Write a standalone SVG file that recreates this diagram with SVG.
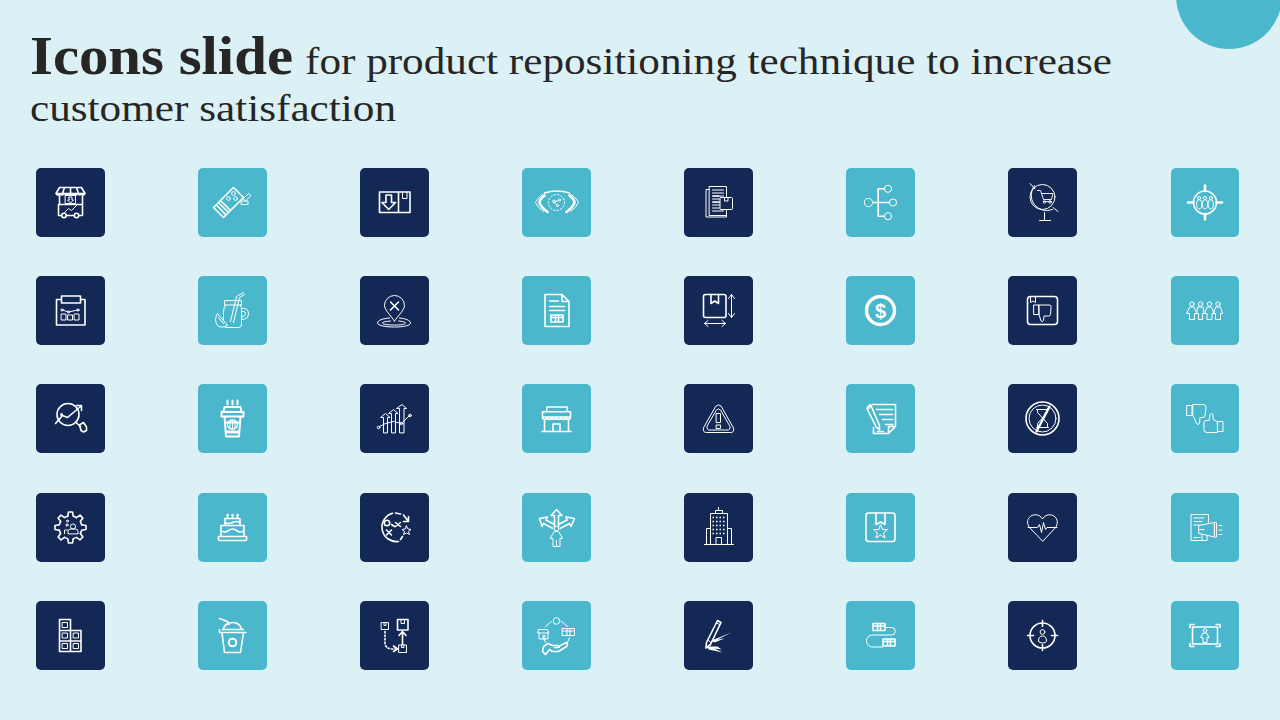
<svg xmlns="http://www.w3.org/2000/svg" xmlns:xlink="http://www.w3.org/1999/xlink" width="1280" height="720" viewBox="0 0 1280 720">
<style>
.n{fill:#132855}.t{fill:#4AB7CD}
g.i{fill:none;stroke:#fff;stroke-width:1;stroke-linejoin:round;stroke-linecap:round}
.b{stroke-width:1.6}.h{stroke-width:2.6}.f{fill:#fff;stroke:none}.d{stroke-dasharray:1.5 2}
.title{font-family:"Liberation Serif","DejaVu Serif",serif;fill:#262626}
</style>
<defs>
<path id="gt" d="M-2.78,-11.16L-2,-15.5H2L2.78,-11.16A11.5,11.5 0 0 1 5.92,-9.86"/>
<path id="td" d="M-8.5,-5.5h5v9.5h-5zM-3.5,-5.5H7Q9,-5.5 8.5,-3L8,4Q8,5.5 6,5.5H1.5L1,10Q0,12-1.5,10.5L-3.5,4Z"/>
<path id="bx" d="M-6,-3.5h12v7h-12zM-6,-1h12M-1.5,-3.5v7M1.5,-3.5v7"/>
</defs>
<rect width="1280" height="720" fill="#DCF1F5"/>
<circle id="corner" cx="1229" cy="-4" r="53" fill="#4AB7CD"/>
<g id="title" class="title">
<text x="30" y="74" font-size="54" font-weight="700" textLength="263" lengthAdjust="spacingAndGlyphs">Icons slide</text>
<text x="305" y="74" font-size="38" textLength="807" lengthAdjust="spacingAndGlyphs">for product repositioning technique to increase</text>
<text x="30" y="121" font-size="38" textLength="366" lengthAdjust="spacingAndGlyphs">customer satisfaction</text>
</g>
<g id="connectors"/>

<!-- row 1 -->
<g id="icon-stall" class="i" transform="translate(70.5,202.5)"><rect class="n" x="-34.5" y="-34.5" width="69" height="69" rx="5" stroke="none"/>
<path class="b" d="M-11,-15H11L14.5,-9H-14.5ZM-14.5,-9Q-12.5,-6-10.5,-9Q-8.5,-6-6,-9Q-4,-6-1.5,-9Q1,-6 3,-9Q5,-6 7,-9Q9.5,-6 11,-9Q13,-6 14.5,-9M-6,-15-8,-9M0,-15V-9M6,-15 8,-9M-11,-7V2M12,-7V2"/>
<path class="b" d="M-12,2H12V13H-12Z"/><circle class="b" cx="-6.5" cy="13" r="2.2" fill="#132855"/><circle class="b" cx="6" cy="13" r="2.2" fill="#132855"/>
<path d="M-5,-7h10v8h-10zM-1.5,-5.5h3v3h1.5l-3,3-3-3h1.5zM-6,10-2,6 1,8 6,3"/></g>

<g id="icon-ticket" class="i" transform="translate(232.5,202.5)"><rect class="t" x="-34.5" y="-34.5" width="69" height="69" rx="5" stroke="none"/>
<path class="b" d="M-19,5 1,-15 11,-5-9,15ZM-14,0-4,10M-16,2.5-6.5,12.5M-12,-2-2,8"/>
<circle cx="1" cy="-9" r="1.9"/><circle cx="-4" cy="-4" r="1.9"/><circle cx="3" cy="-4" r="1.9"/>
<path d="M9,-1.5h6.5v3.5H9ZM11,-4 16,-9 18.5,-7 13.5,-2Z"/></g>

<g id="icon-box-down" class="i" transform="translate(394.5,202.5)"><rect class="n" x="-34.5" y="-34.5" width="69" height="69" rx="5" stroke="none"/>
<path class="b" d="M-15,-10.5H15.5V10H-15ZM4,-10.5V10"/><path d="M8,-10.5V-4H12.5V-10.5"/>
<path class="b" d="M-8.5,-7.5h5.5v7.5h4l-6.8,7-6.7-7h4z"/></g>

<g id="icon-eye" class="i" transform="translate(556.5,202.5)"><rect class="t" x="-34.5" y="-34.5" width="69" height="69" rx="5" stroke="none"/>
<path class="h" d="M-12,-7Q-17,-3-17,0-16,4-9,9.5M13,-7Q18,-3 18,0 17,4 10,9.5"/>
<path d="M-14,-8Q-20,-3-21,0-19,5-13,9M15,-8Q21,-3 22,0 20,5 14,9"/>
<path class="b" d="M-12,-9.5Q0,-13.5 13,-9.5"/>
<circle class="d" cx="0" cy="0" r="8"/><circle cx="-2.5" cy="-1" r="1.4"/><circle cx="3" cy="-2.5" r="1.1"/><circle cx="1" cy="3" r="1.2"/><path d="M-1.5,-.5 2,-2M-1,1 0,2"/></g>

<g id="icon-docs" class="i" transform="translate(718.5,202.5)"><rect class="n" x="-34.5" y="-34.5" width="69" height="69" rx="5" stroke="none"/>
<path d="M-9,-16H8V13H-9ZM-9,-13H-12.5V14.5H8V13M-6,-12.5H5M-6,-9.5H5M-6,-6.5H5M-6,-3.5H1M-6,-.5H1M-6,2.5H1M-6,5.5H1M-6,8.5H5"/>
<path class="f" d="M-6,-7h7v1.2h-7zM-6,-1h7v1.2h-7z"/>
<rect x="1.5" y="-5" width="12.5" height="12" rx="1" fill="#132855"/><path d="M6,-5V-1.5H9.5V-5"/></g>

<g id="icon-tree" class="i" transform="translate(880.5,202.5)"><rect class="t" x="-34.5" y="-34.5" width="69" height="69" rx="5" stroke="none"/>
<circle cx="-12" cy="0" r="4.2"/><circle cx="12.5" cy="0" r="3.6"/><circle cx="7.5" cy="-13.7" r="3.6"/><circle cx="7.5" cy="13.7" r="3.6"/>
<path class="b" d="M-7.8,0H8.9M3.9,-13.7H-2.3V13.7H3.9"/></g>

<g id="icon-globe" class="i" transform="translate(1042.5,202.5)"><rect class="n" x="-34.5" y="-34.5" width="69" height="69" rx="5" stroke="none"/>
<circle cx="0" cy="-5.5" r="12.5"/><path d="M-8,-17A15.5,15.5 0 0 0 10,7M-12.5,-19-7.5,-13.5M10.5,5 15.5,9M2,10V18M-3,18H8"/>
<path style="stroke-width:.9" d="M-5,-12H-2L1,-3H9L10.5,-9H-1M1,-1H9"/><circle style="stroke-width:.9" cx="2" cy="-.5" r="1.3"/><circle style="stroke-width:.9" cx="7.5" cy="-.5" r="1.3"/></g>

<g id="icon-target-people" class="i" transform="translate(1205,202.5)"><rect class="t" x="-34" y="-34.5" width="68" height="69" rx="5" stroke="none"/>
<circle class="b" cx="0" cy="0" r="11.5"/><path class="h" d="M0,-17V-11.5M0,11.5V17M-17,0H-11.5M11.5,0H17"/>
<circle cx="-5.8" cy="-4.5" r="1.6"/><circle cx="0" cy="-4.5" r="1.6"/><circle cx="5.8" cy="-4.5" r="1.6"/>
<ellipse cx="-5.8" cy="1.8" rx="2.6" ry="4.6"/><ellipse cx="0" cy="1.8" rx="2.6" ry="4.6"/><ellipse cx="5.8" cy="1.8" rx="2.6" ry="4.6"/></g>

<!-- row 2 -->
<g id="icon-clipboard" class="i" transform="translate(70.5,310.5)"><rect class="n" x="-34.5" y="-34.5" width="69" height="69" rx="5" stroke="none"/>
<path class="b" d="M-9,-11H-14V14.5H14.5V-11H10M-9,-14.5H10V-7.5H-9Z"/>
<path d="M-8,-.5-2,1.5 7,-.5"/><circle cx="-8.5" cy="-.5" r="1.1"/><circle cx="-2" cy="1.5" r="1.1"/><circle cx="7.5" cy="-.5" r="1.1"/>
<path d="M-9,3.5h4.5v6h-4.5zM-2.5,4.5H2v5h-4.5zM4,3.5h4.5v6H4z"/></g>

<g id="icon-jar" class="i" transform="translate(232.5,310.5)"><rect class="t" x="-34.5" y="-34.5" width="69" height="69" rx="5" stroke="none"/>
<path d="M-8,-9.5V-5.5H9V-9.5ZM-7,-5.5Q-9,-3-9,2V14Q-9,17-6,17H6Q9,17 9,14V-1Q9,-3 8,-5.5M9,-2H11Q16,-2 16,3 16,9 9,9M9,1H11Q13,1 13,3 13,6 9,6"/>
<path d="M-2,11 4,-14 11,-18M1,12 7,-13 12,-16"/>
<path fill="#4AB7CD" d="M-15,3-5,15Q-12,18-15,15-19,9-15,3ZM-14,7-9,13"/></g>

<g id="icon-pin" class="i" transform="translate(394.5,310.5)"><rect class="n" x="-34.5" y="-34.5" width="69" height="69" rx="5" stroke="none"/>
<path d="M0,10.5C-4,5-10,-1-10,-5A10,10 0 0 1 10,-5C10,-1 4,5 0,10.5Z"/><path class="b" d="M-4,-8.5 4,-.5M4,-8.5-4,-.5"/>
<path d="M-5,7.5C-12,8-17,10-17,12.5-17,15-9,16.5 0,16.5S16,15 16,12.5C16,10 11,8 5,7.5M-4,10.5C-9,11-12,11.5-12,12.5-12,14-6,14.5 0,14.5S11,14 11,12.5C11,11.5 8,11 4,10.5"/></g>

<g id="icon-doc-box" class="i" transform="translate(556.5,310.5)"><rect class="t" x="-34.5" y="-34.5" width="69" height="69" rx="5" stroke="none"/>
<path class="b" d="M-11.5,-16H5.5L12.5,-9V16H-11.5ZM5.5,-16V-9H12.5M-7,-9.5H2M-7,-4H8M-7,0H8"/>
<g transform="translate(0.5,8)"><use xlink:href="#bx" href="#bx" class="b"/></g></g>

<g id="icon-box-size" class="i" transform="translate(718.5,310.5)"><rect class="n" x="-34.5" y="-34.5" width="69" height="69" rx="5" stroke="none"/>
<rect class="b" x="-15" y="-16" width="22.5" height="23" rx="2"/><path class="b" d="M-7.5,-16V-7L-3.7,-9.5 0,-7V-16"/>
<path d="M13,-16V7M10,-12 13,-16 16,-12M10,3 13,7 16,3M-14,13H7M-10.5,10-14,13-10.5,16M3.5,10 7,13 3.5,16"/></g>

<g id="icon-dollar" class="i" transform="translate(880.5,310.5)"><rect class="t" x="-34.5" y="-34.5" width="69" height="69" rx="5" stroke="none"/>
<circle cx="0" cy="0" r="14" style="stroke-width:3.4"/><text x="0" y="7.2" text-anchor="middle" font-family="Liberation Sans,sans-serif" font-size="20" font-weight="700" fill="#fff" stroke="none">$</text></g>

<g id="icon-box-thumb" class="i" transform="translate(1042.5,310.5)"><rect class="n" x="-34.5" y="-34.5" width="69" height="69" rx="5" stroke="none"/>
<rect class="b" x="-15" y="-14" width="30" height="28" rx="3"/><path d="M-12,-14V-8L-9.5,-9.5-7,-8V-14"/><use xlink:href="#td" href="#td"/></g>

<g id="icon-people" class="i" transform="translate(1205,310.5)"><rect class="t" x="-34" y="-34.5" width="68" height="69" rx="5" stroke="none"/>
<circle cx="-13" cy="-6.5" r="2.2"/><circle cx="-4.5" cy="-6.5" r="2.2"/><circle cx="4.5" cy="-6.5" r="2.2"/><circle cx="13" cy="-6.5" r="2.2"/>
<path d="M-15,-3.5H-11L-8,3-10.5,3V9H-15.5V3H-18ZM-7,-3.5H-2L-1,3H-2.5V9H-6.5V3H-8ZM2.5,-3.5H6.5L9,3H7V9H2V3H0ZM11,-3.5H15.5L17.5,3H15.5V9H10.5V3H9Z"/></g>

<!-- row 3 -->
<g id="icon-search-chart" class="i" transform="translate(70.5,418.5)"><rect class="n" x="-34.5" y="-34.5" width="69" height="69" rx="5" stroke="none"/>
<circle class="b" cx="-2.5" cy="-4" r="11"/><path class="b" d="M-15,5-8,-3-3,-1 10,-12M6,-13H11V-8M5,3.5 10,8"/>
<path class="b" d="M9,6.5 13,4 16,8.5 16,12 13,13.5 10.5,12Z"/><circle class="f" cx="-9" cy="-4" r="1.5"/></g>

<g id="icon-coffee" class="i" transform="translate(232.5,418.5)"><rect class="t" x="-34.5" y="-34.5" width="69" height="69" rx="5" stroke="none"/>
<path class="b" style="stroke-width:2" d="M-8,-11.5H8L9,-6.5H-9ZM-11,-6.5H11V-2H-11ZM-8,-2-6.5,18H6.5L8,-2M-7,4H7M-5,-18V-14M0,-18V-14M5,-18V-14"/>
<path class="f" d="M-6.5,12H6.5L6.2,15H-6.2Z"/>
<ellipse cx="0" cy="6" rx="5" ry="4.5" style="stroke-width:1.4"/><path d="M0,2V10M-2.5,3V9M2.5,3V9"/></g>

<g id="icon-bar-arrows" class="i" transform="translate(394.5,418.5)"><rect class="n" x="-34.5" y="-34.5" width="69" height="69" rx="5" stroke="none"/>
<path d="M-11,14V-1H-14L-9,-5-4.5,-1H-7V14ZM-3,14V-5H-6L-1,-9 3.5,-5H1V14ZM5,14V-10H2L7.5,-14 12,-10H9.5V14Z"/>
<path d="M-15,8-9,5-1,3 7,5 15,-3"/><circle cx="-16" cy="9" r="1.3"/><circle cx="15.5" cy="-3" r="1.3"/><circle cx="7" cy="5" r="1.3"/></g>

<g id="icon-store" class="i" transform="translate(556.5,418.5)"><rect class="t" x="-34.5" y="-34.5" width="69" height="69" rx="5" stroke="none"/>
<path class="b" d="M-9.5,-11.5H10.5L11,-6.7H-10ZM-14,-6.7H14V-1.5H-14ZM-14,-1.5A2.3,2.3 0 0 0-9.3,-1.5A2.3,2.3 0 0 0-4.6,-1.5A2.3,2.3 0 0 0 0,-1.5A2.3,2.3 0 0 0 4.6,-1.5A2.3,2.3 0 0 0 9.3,-1.5A2.3,2.3 0 0 0 14,-1.5M-12,2V13M12,2V13M-14.5,13H14.5M-3.5,13V5.5H3.5V13"/></g>

<g id="icon-warning" class="i" transform="translate(718.5,418.5)"><rect class="n" x="-34.5" y="-34.5" width="69" height="69" rx="5" stroke="none"/>
<path d="M-2.5,-12.5Q0,-15 2.5,-12.5L15,9.5Q16,14 12,14H-12Q-16,14-15,9.5Z"/><path d="M-2,-8.5Q0,-11 2,-8.5L11.5,8Q12,11 10,11.5H-10Q-12,11-11.5,8Z"/>
<path d="M-2,-5H2V4H-2ZM-2,6.5H2V10H-2Z"/></g>

<g id="icon-note" class="i" transform="translate(880.5,418.5)"><rect class="t" x="-34.5" y="-34.5" width="69" height="69" rx="5" stroke="none"/>
<path class="b" d="M-8,-14H15V8L8,15H-7V9M15,8H8V15M-4,-9H12M-1,-4H12M2,1H12M5,6H12M-3,13H3"/>
<path class="b" fill="#4AB7CD" d="M-13.5,-10-10,-14-1,7-1,11-4,9Z"/><circle cx="-11.5" cy="-11.5" r="1.5"/></g>

<g id="icon-no-hourglass" class="i" transform="translate(1042.5,418.5)"><rect class="n" x="-34.5" y="-34.5" width="69" height="69" rx="5" stroke="none"/>
<circle class="b" cx="0" cy="0" r="16.5"/><circle cx="0" cy="0" r="13.5"/>
<path d="M-6,-9H6M-6,9H6M-5,-9V-6L5,5V9M5,-9V-6L-5,5V9"/><path class="b" d="M-6,13 7,-12" style="stroke-width:2.4"/></g>

<g id="icon-thumbs" class="i" transform="translate(1205,418.5)"><rect class="t" x="-34" y="-34.5" width="68" height="69" rx="5" stroke="none"/>
<path d="M-18,-13H-13V-3H-18ZM-12,-14H-2Q1,-14 1,-11L0,-3Q0,-1-2,-1H-5L-5.5,5Q-7,7-8.5,5L-12,-3Z"/>
<path transform="translate(0,4)" d="M13,-1H18V9H13ZM12,10H2Q-1,10-1,7V0Q-1,-2 1,-2H4L5,-8Q6.5,-10 8,-8L8,-3 12,-1Z"/></g>

<!-- row 4 -->
<g id="icon-gear" class="i" transform="translate(70.5,527.5)"><rect class="n" x="-34.5" y="-34.5" width="69" height="69" rx="5" stroke="none"/>
<g class="b"><use xlink:href="#gt" href="#gt"/><use xlink:href="#gt" href="#gt" transform="rotate(45)"/><use xlink:href="#gt" href="#gt" transform="rotate(90)"/><use xlink:href="#gt" href="#gt" transform="rotate(135)"/><use xlink:href="#gt" href="#gt" transform="rotate(180)"/><use xlink:href="#gt" href="#gt" transform="rotate(225)"/><use xlink:href="#gt" href="#gt" transform="rotate(270)"/><use xlink:href="#gt" href="#gt" transform="rotate(315)"/></g>
<circle cx="2.5" cy="-1" r="2.6"/><path d="M-2.5,6V4Q-2,1.5 0,1.5H5Q7.5,1.5 7.5,4V6ZM-6,6V2.5H-3"/><circle cx="-3.5" cy="-2.5" r="1.1"/><circle cx="-3" cy="-6.5" r="1"/></g>

<g id="icon-cake" class="i" transform="translate(232.5,527.5)"><rect class="t" x="-34.5" y="-34.5" width="69" height="69" rx="5" stroke="none"/>
<path class="b" d="M-14,9H14Q14.5,13 13,13H-13Q-14.5,13-14,9ZM-11.5,9V-2H11.5V9M-7.5,-2V-9H7.5V-2M-11.5,3Q-8,6-4,3T4,3 11.5,3M-7.5,-5Q-4,-3 0,-5T7.5,-5M-5,-9V-12M0,-9V-12M5,-9V-12"/>
<circle cx="-5" cy="-12.5" r=".9"/><circle cx="0" cy="-12.5" r=".9"/><circle cx="5" cy="-12.5" r=".9"/></g>

<g id="icon-play" class="i" transform="translate(394.5,527.5)"><rect class="n" x="-34.5" y="-34.5" width="69" height="69" rx="5" stroke="none"/>
<path class="b" d="M-2,-14.3A14.5,14.5 0 0 0 4,14" /><path class="b" d="M1,-14.5 6,-13.5M8,9 6,12"/>
<path class="b" d="M14,-6 9,-12.5M14,-6 14,-11M14,-6 9,-6"/>
<circle class="b" cx="-7.5" cy="-4.5" r="2.7"/><path class="b" d="M1,-5 6,-1M6,-5 1,-1M-8,2.5-3,7.5M-3,2.5-8,7.5M-3,-3 0,-1"/>
<path d="M12,-1.5 13.5,1.5 16.5,2 14,4 15,7 12,5.5 9,7 10,4 7.5,2 10.5,1.5Z"/></g>

<g id="icon-choice" class="i" transform="translate(556.5,527.5)"><rect class="t" x="-34.5" y="-34.5" width="69" height="69" rx="5" stroke="none"/>
<circle cx="0" cy="1" r="2.3"/><path d="M-2,4H2L6,11H3.5V19H-3.5V11H-6ZM0,13V19"/>
<path class="b" d="M-2,-1V-12H-5.5L0,-18 5.5,-12H2V-1M-3.5,1-13,-4-14.5,-1-17,-9-9,-10.5-10.5,-7.5-2,-3M3.5,1 13,-4 14.5,-1 18,-9 9.5,-10.5 10.5,-7.5 2,-3"/></g>

<g id="icon-building" class="i" transform="translate(718.5,527.5)"><rect class="n" x="-34.5" y="-34.5" width="69" height="69" rx="5" stroke="none"/>
<path d="M-8,17V-14H9V17M-12,17V1H-8M9,1H13V17M-14,17H15M-2.5,17V10H3V17M-3,-14V-17H4V-14M0,-17V-20"/>
<path class="d" style="stroke-width:1.6;stroke-linecap:butt" d="M-6,-10H7M-6,-6H7M-6,-2H7M-6,2H7M-6,6H7"/></g>

<g id="icon-box-star" class="i" transform="translate(880.5,527.5)"><rect class="t" x="-34.5" y="-34.5" width="69" height="69" rx="5" stroke="none"/>
<rect class="b" x="-14.5" y="-14.5" width="29" height="28.5" rx="2.5"/><path class="b" d="M-4.5,-14.5V-3L0,-5.5 4.5,-3V-14.5"/>
<path d="M0,-2.5 2,2H7L3,5.5 4.5,10.5 0,7.5-4.5,10.5-3,5.5-7,2H-2Z"/></g>

<g id="icon-heart" class="i" transform="translate(1042.5,527.5)"><rect class="n" x="-34.5" y="-34.5" width="69" height="69" rx="5" stroke="none"/>
<path d="M0,13.5-13,0C-20,-10-6,-18 0,-8.5 6,-18 20,-10 13,0Z"/><path d="M-14.5,0H-5L-3,-3-1,5 1,-5 3,2 4.5,0H14.5"/></g>

<g id="icon-megaphone-doc" class="i" transform="translate(1205,527.5)"><rect class="t" x="-34" y="-34.5" width="68" height="69" rx="5" stroke="none"/>
<path d="M-3,13H-14V-13H3.5V-5M-11,-9.5H-1M-11,-6H-3M-11,-2.5H-5M-11,10H-5"/>
<path fill="#4AB7CD" d="M-6,-2 9.5,-5V9.5L-6,6ZM9.5,-5Q10,-6 11.5,-5V9.5Q10,10.5 9.5,9.5ZM-3,7V13H2V8M-6,2H-1"/><path d="M14,-2H17M14,2.5H17M14,7H17"/></g>

<!-- row 5 -->
<g id="icon-blocks" class="i" transform="translate(70.5,635.5)"><rect class="n" x="-34.5" y="-34.5" width="69" height="69" rx="5" stroke="none"/>
<path class="b" d="M-11,-16H0V16H-11ZM-11,-5H10.5V16H0M-11,5.5H10.5"/>
<path d="M-8,-13H-3V-8H-8ZM-8,-2.5H-3V2.5H-8ZM3,-2.5H8V2.5H3ZM-8,8H-3V13H-8ZM3,8H8V13H3Z"/></g>

<g id="icon-cup" class="i" transform="translate(232.5,635.5)"><rect class="t" x="-34.5" y="-34.5" width="69" height="69" rx="5" stroke="none"/>
<path class="b" d="M-13,-3H13.5M-10.5,-3-8,17H8L11,-3M-10,-6H11M-9,-6C-9,-10-5,-13 0,-13S9,-10 9,-6M-13,-17-5,-14-3.5,-11M-13,-6-13,-3"/><circle cx="0" cy="7" r="3.8" style="stroke-width:2"/></g>

<g id="icon-box-path" class="i" transform="translate(394.5,635.5)"><rect class="n" x="-34.5" y="-34.5" width="69" height="69" rx="5" stroke="none"/>
<rect x="-13" y="-13" width="7" height="7"/><path d="M-10.5,-13V-10H-8.5V-13"/>
<rect class="b" x="3" y="-16" width="10.5" height="10.5"/><path d="M6.5,-16V-12H10V-16"/><rect x="4.5" y="9.5" width="7.5" height="7.5"/><path d="M7,9.5V12H9.5V9.5"/>
<path class="d b" d="M-9.5,-4V7Q-9.5,13-3,13.5H1"/><path class="b" d="M-1,10.5 3,13.5-1,16M8,9V-3M4.5,0 8,-4 11.5,0"/></g>

<g id="icon-cycle" class="i" transform="translate(556.5,635.5)"><rect class="t" x="-34.5" y="-34.5" width="69" height="69" rx="5" stroke="none"/>
<circle cx="0" cy="-14.5" r="3.3"/><path d="M-5,-14-11,-9M5,-14 11,-9M-13,2-11,7M13,2 11,7"/>
<path d="M-17.5,-6H-9L-7.5,-2.5H-18.5ZM-17.5,-2.5V3.5H-8.5V-2.5M-13.5,3.5V0H-11.5V3.5"/>
<g transform="translate(12,-3.5)"><use xlink:href="#bx" href="#bx"/></g>
<path class="b" transform="translate(0,3)" d="M-13,8-8.5,5-4,7H2Q4,9 1,9H-2M2,8 10,4Q12,5 10,8L2,13H-4L-7,11-11,16-14,13-13,8"/></g>

<g id="icon-pencil" class="i" transform="translate(718.5,635.5)"><rect class="n" x="-34.5" y="-34.5" width="69" height="69" rx="5" stroke="none"/>
<path class="b" d="M-1,-15 2.5,-13-8,9-12.5,12.5-12,7Z"/><path d="M-2,-12.5 1,-11M-10,5-7.5,7"/>
<path class="f" d="M-7,5 13,-3-1,4 6,3-4,7ZM-11,11-1,11 3,14-4,13 4,17-5,15-10,14Z"/></g>

<g id="icon-box-route" class="i" transform="translate(880.5,635.5)"><rect class="t" x="-34.5" y="-34.5" width="69" height="69" rx="5" stroke="none"/>
<g transform="translate(-1.5,-8.5)"><use xlink:href="#bx" href="#bx" class="b"/></g><g transform="translate(8.5,7)"><use xlink:href="#bx" href="#bx" class="b"/></g>
<path d="M5,-8H11A3.5,3.5 0 0 1 11,-.5H-8A6,6 0 0 0-8,11.5H2"/></g>

<g id="icon-target-person" class="i" transform="translate(1042.5,635.5)"><rect class="n" x="-34.5" y="-34.5" width="69" height="69" rx="5" stroke="none"/>
<circle class="b" cx="0" cy="0" r="12.5"/><path class="b" d="M0,-15V-9M0,9V15M-15,0H-9M9,0H15"/>
<circle cx="0" cy="-3.5" r="2.4"/><path d="M-4,5.5Q-4,.5 0,.5T4,5.5Q4,7.5 0,7.5T-4,5.5Z"/></g>

<g id="icon-frame-person" class="i" transform="translate(1205,635.5)"><rect class="t" x="-34" y="-34.5" width="68" height="69" rx="5" stroke="none"/>
<path class="b" d="M-15,-8V-11H-11M11,-11H15V-8M-15,8V11H-11M11,11H15V8"/>
<rect class="b" x="-12.5" y="-8.5" width="25" height="17"/>
<circle cx="0" cy="-5" r="1.8"/><path d="M-1.5,-2.5H1.5L4,2H2V7H-2V2H-4Z"/></g>
</svg>
